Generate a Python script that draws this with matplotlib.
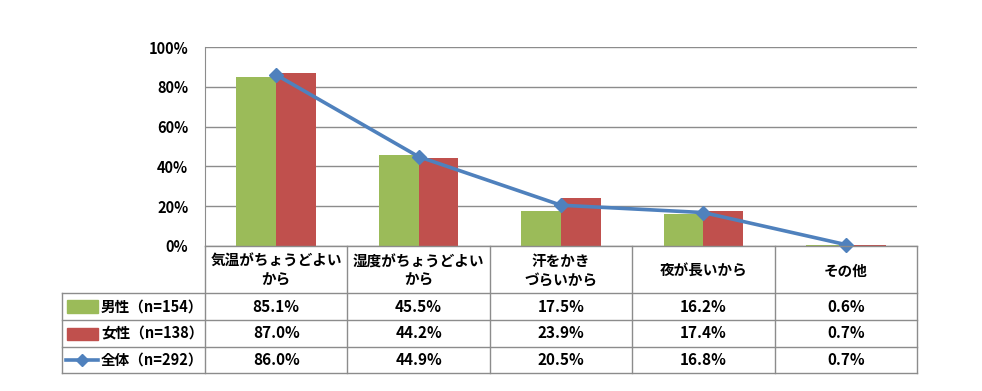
import matplotlib
matplotlib.use("Agg")
import matplotlib.pyplot as plt
from matplotlib.lines import Line2D
from matplotlib.patches import Rectangle
import numpy as np

plt.rcParams['font.family'] = ['Noto Sans CJK JP', 'DejaVu Sans']

categories = ["気温がちょうどよい\nから", "湿度がちょうどよい\nから", "汗をかき\nづらいから", "夜が長いから", "その他"]
series_names = ["男性（n=154）", "女性（n=138）", "全体（n=292）"]
male = [85.1, 45.5, 17.5, 16.2, 0.6]
female = [87.0, 44.2, 23.9, 17.4, 0.7]
total = [86.0, 44.9, 20.5, 16.8, 0.7]
yticks = [0, 20, 40, 60, 80, 100]

GREEN = "#9BBB59"
RED = "#C0504D"
BLUE = "#4F81BD"
GRID = "#8C8C8C"

W, H = 982, 391
fig = plt.figure(figsize=(W/100, H/100), dpi=100)

def fx(px):
    return px / W

def fy(py):
    return 1 - py / H

left, right, top, bottom = 205, 917, 47, 246
ax = fig.add_axes([fx(left), fy(bottom), fx(right) - fx(left), fy(top) - fy(bottom)])
n = len(categories)
x = np.arange(n)
bw = 0.28
ax.bar(x - bw/2, male, width=bw, color=GREEN, zorder=2)
ax.bar(x + bw/2, female, width=bw, color=RED, zorder=2)
ax.plot(x, total, color=BLUE, lw=2.6, marker='D', ms=7, zorder=3, clip_on=False)
ax.set_xlim(-0.5, n - 0.5)
ax.set_ylim(0, 100)
ax.set_yticks(yticks)
ax.set_yticklabels([f"{v}%" for v in yticks], fontsize=10.5, fontweight='bold')
ax.tick_params(axis='y', length=0, pad=12)
ax.set_xticks([])
for s in ['top', 'right', 'bottom']:
    ax.spines[s].set_visible(False)
ax.spines['left'].set_color(GRID)
ax.grid(axis='y', color=GRID, lw=1, zorder=0)
ax.set_axisbelow(True)

# table
col_x = [left + i * (right - left) / n for i in range(n + 1)]
row_y = [246, 293, 320, 347, 373]
leg_left = 62

def hline(x0, x1, y):
    fig.add_artist(Line2D([fx(x0), fx(x1)], [fy(y), fy(y)], color=GRID, lw=1))

def vline(x, y0, y1):
    fig.add_artist(Line2D([fx(x), fx(x)], [fy(y0), fy(y1)], color=GRID, lw=1))

hline(left, right, row_y[0])
for y in row_y[1:]:
    hline(leg_left, right, y)
for xx in col_x:
    vline(xx, row_y[0], row_y[-1])
vline(leg_left, row_y[1], row_y[-1])

for i, c in enumerate(categories):
    cx = (col_x[i] + col_x[i + 1]) / 2
    cy = (row_y[0] + row_y[1]) / 2 + 1
    fig.text(fx(cx), fy(cy), c, ha='center', va='center', fontsize=10.5,
             fontweight='bold', linespacing=1.2)

data_rows = [male, female, total]
for r, vals in enumerate(data_rows):
    cy = (row_y[r + 1] + row_y[r + 2]) / 2
    for i, v in enumerate(vals):
        cx = (col_x[i] + col_x[i + 1]) / 2
        fig.text(fx(cx), fy(cy), f"{v:.1f}%", ha='center', va='center',
                 fontsize=11, fontweight='bold')
    fig.text(fx(101), fy(cy), series_names[r], ha='left', va='center',
             fontsize=10.5, fontweight='bold')

# legend keys
for r, col in enumerate([GREEN, RED]):
    cy = (row_y[r + 1] + row_y[r + 2]) / 2
    fig.add_artist(Rectangle((fx(67), fy(cy + 6)), fx(98) - fx(67), fy(cy - 6) - fy(cy + 6),
                             color=col, transform=fig.transFigure))
cy = (row_y[3] + row_y[4]) / 2
fig.add_artist(Line2D([fx(66), fx(98)], [fy(cy), fy(cy)], color=BLUE, lw=2.6,
                      transform=fig.transFigure))
fig.add_artist(Line2D([fx(82)], [fy(cy)], color=BLUE, marker='D', ms=6,
                      transform=fig.transFigure))

fig.savefig("out.png", dpi=100)
